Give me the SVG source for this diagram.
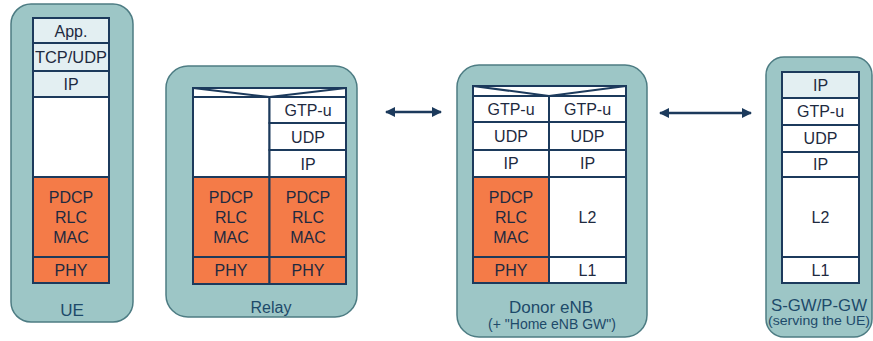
<svg xmlns="http://www.w3.org/2000/svg" width="873" height="341" viewBox="0 0 873 341">
<defs>
<style>
.outer{fill:#9dc6c6;stroke:#4d7c83;stroke-width:1.5}
.c{stroke:#1c3a5c;stroke-width:2}
.w{fill:#ffffff}
.l{fill:#e3eff2}
.o{fill:#f47b48}
.t{font-size:16px;fill:#1e2a40;text-anchor:middle}
.lab{font-size:17px;fill:#1d4a6a;text-anchor:middle}
.sub{font-size:12.5px;fill:#1d4a6a;text-anchor:middle}
.arr{stroke:#1c3a5c;stroke-width:2.5;fill:none}
</style>
<marker id="ah" viewBox="0 0 10 10" refX="9" refY="5" markerWidth="4" markerHeight="4" orient="auto-start-reverse" markerUnits="strokeWidth">
<path d="M0,0 L10,5 L0,10 z" fill="#1c3a5c"/>
</marker>
</defs>

<g id="ue" font-family="Liberation Sans, Arial, sans-serif">
<rect class="outer" x="11" y="4" width="122" height="318" rx="20"/>
<rect class="c l" x="33" y="18" width="76" height="25"/>
<rect class="c l" x="33" y="43" width="76" height="28"/>
<rect class="c l" x="33" y="71" width="76" height="26"/>
<rect class="c w" x="33" y="97" width="76" height="80"/>
<rect class="c o" x="33" y="177" width="76" height="80"/>
<rect class="c o" x="33" y="257" width="76" height="26"/>
<text class="t" x="71" y="36.5">App.</text>
<text class="t" x="71" y="62.5" textLength="72" lengthAdjust="spacingAndGlyphs">TCP/UDP</text>
<text class="t" x="71" y="89.5">IP</text>
<text class="t" x="71" y="202.5">PDCP</text>
<text class="t" x="71" y="222.5">RLC</text>
<text class="t" x="71" y="242.5">MAC</text>
<text class="t" x="71" y="275.5">PHY</text>
<text class="lab" x="72" y="316">UE</text>
</g>

<g id="relay" font-family="Liberation Sans, Arial, sans-serif">
<rect class="outer" x="166" y="66" width="191" height="251" rx="22"/>
<rect class="c w" x="193" y="88" width="153" height="9"/>
<polyline class="c" fill="none" points="193,88 269.5,97 346,88"/>
<rect class="c w" x="193" y="97" width="76.5" height="80"/>
<rect class="c w" x="269.5" y="97" width="76.5" height="26"/>
<rect class="c w" x="269.5" y="123" width="76.5" height="27"/>
<rect class="c w" x="269.5" y="150" width="76.5" height="27"/>
<rect class="c o" x="193" y="177" width="76.5" height="80"/>
<rect class="c o" x="269.5" y="177" width="76.5" height="80"/>
<rect class="c o" x="193" y="257" width="76.5" height="27"/>
<rect class="c o" x="269.5" y="257" width="76.5" height="27"/>
<text class="t" x="308" y="115.5">GTP-u</text>
<text class="t" x="308" y="142.5">UDP</text>
<text class="t" x="308" y="169.5">IP</text>
<text class="t" x="231" y="202.5">PDCP</text>
<text class="t" x="231" y="222.5">RLC</text>
<text class="t" x="231" y="242.5">MAC</text>
<text class="t" x="308" y="202.5">PDCP</text>
<text class="t" x="308" y="222.5">RLC</text>
<text class="t" x="308" y="242.5">MAC</text>
<text class="t" x="231" y="276">PHY</text>
<text class="t" x="308" y="276">PHY</text>
<text class="lab" x="271" y="312.5" style="font-size:16px">Relay</text>
</g>

<g id="donor" font-family="Liberation Sans, Arial, sans-serif">
<rect class="outer" x="457" y="65" width="190" height="272" rx="22"/>
<rect class="c w" x="473" y="86" width="153" height="10"/>
<polyline class="c" fill="none" points="473,86 549,96 626,86"/>
<rect class="c w" x="473" y="96" width="76" height="26"/>
<rect class="c w" x="549" y="96" width="77" height="26"/>
<rect class="c w" x="473" y="122" width="76" height="28"/>
<rect class="c w" x="549" y="122" width="77" height="28"/>
<rect class="c w" x="473" y="150" width="76" height="27"/>
<rect class="c w" x="549" y="150" width="77" height="27"/>
<rect class="c o" x="473" y="177" width="76" height="80"/>
<rect class="c w" x="549" y="177" width="77" height="80"/>
<rect class="c o" x="473" y="257" width="76" height="26"/>
<rect class="c w" x="549" y="257" width="77" height="26"/>
<text class="t" x="511" y="114.5">GTP-u</text>
<text class="t" x="587.5" y="114.5">GTP-u</text>
<text class="t" x="511" y="141.5">UDP</text>
<text class="t" x="587.5" y="141.5">UDP</text>
<text class="t" x="511" y="169">IP</text>
<text class="t" x="587.5" y="169">IP</text>
<text class="t" x="511" y="202.5">PDCP</text>
<text class="t" x="511" y="222.5">RLC</text>
<text class="t" x="511" y="242.5">MAC</text>
<text class="t" x="587.5" y="222.5">L2</text>
<text class="t" x="511" y="275.5">PHY</text>
<text class="t" x="587.5" y="275.5">L1</text>
<text class="lab" x="551" y="312.5">Donor eNB</text>
<text class="sub" x="552" y="328.5" style="font-size:14px">(+ "Home eNB GW")</text>
</g>

<g id="sgw" font-family="Liberation Sans, Arial, sans-serif">
<rect class="outer" x="766" y="57" width="106" height="280" rx="18"/>
<rect class="c l" x="782" y="72" width="77" height="26"/>
<rect class="c w" x="782" y="98" width="77" height="27"/>
<rect class="c w" x="782" y="125" width="77" height="27"/>
<rect class="c w" x="782" y="152" width="77" height="25"/>
<rect class="c w" x="782" y="177" width="77" height="80"/>
<rect class="c w" x="782" y="257" width="77" height="26"/>
<text class="t" x="820.5" y="90.5">IP</text>
<text class="t" x="820.5" y="117">GTP-u</text>
<text class="t" x="820.5" y="144">UDP</text>
<text class="t" x="820.5" y="170">IP</text>
<text class="t" x="820.5" y="222.5">L2</text>
<text class="t" x="820.5" y="275.5">L1</text>
<text class="lab" x="819" y="311" textLength="96" lengthAdjust="spacingAndGlyphs">S-GW/P-GW</text>
<text class="sub" x="819" y="325" textLength="102" lengthAdjust="spacingAndGlyphs">(serving the UE)</text>
</g>

<g id="connectors">
<line class="arr" x1="386" y1="112" x2="441" y2="112" marker-start="url(#ah)" marker-end="url(#ah)"/>
<line class="arr" x1="660" y1="113" x2="751" y2="113" marker-start="url(#ah)" marker-end="url(#ah)"/>
</g>
</svg>
